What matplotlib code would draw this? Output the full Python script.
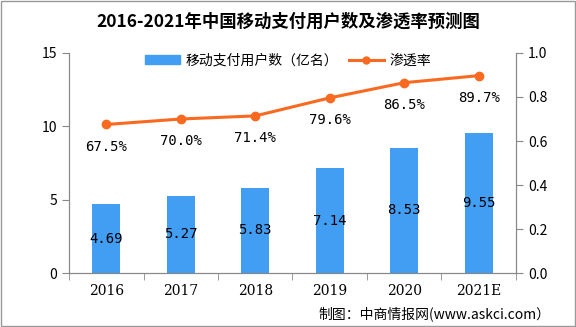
import matplotlib.pyplot as plt
from matplotlib.lines import Line2D
from matplotlib.patches import Patch, Rectangle

plt.rcParams['font.family'] = ['Noto Sans CJK SC', 'DejaVu Sans']

years = ['2016', '2017', '2018', '2019', '2020', '2021E']
users = [4.69, 5.27, 5.83, 7.14, 8.53, 9.55]
rate = [0.675, 0.700, 0.714, 0.796, 0.865, 0.897]
rate_labels = ['67.5%', '70.0%', '71.4%', '79.6%', '86.5%', '89.7%']

bar_color = '#419EF2'
line_color = '#F96A20'
spine_color = '#888888'

fig = plt.figure(figsize=(5.76, 3.27), dpi=100)
ax = fig.add_axes([0.1198, 0.165, 0.776, 0.673])
x = list(range(len(years)))

ax.bar(x, users, width=0.37, color=bar_color, zorder=2)
for xi, v in zip(x, users):
    ax.text(xi, v / 2, f'{v:.2f}', ha='center', va='center', fontsize=10, family='DejaVu Sans Mono')

ax.set_xlim(-0.5, len(years) - 0.5)
ax.set_ylim(0, 15)
ax.set_yticks([0, 5, 10, 15])
ax.set_xticks(x)
ax.set_xticklabels(years, fontsize=10, family='DejaVu Serif')
ax.set_xticks([i - 0.5 for i in range(len(years) + 1)], minor=True)
ax.tick_params(axis='x', which='major', length=0, pad=8)
ax.tick_params(axis='x', which='minor', length=5, color=spine_color)
ax.tick_params(axis='y', length=5, color=spine_color, labelsize=10)

ax2 = ax.twinx()
ax2.plot(x, rate, color=line_color, lw=2.2, marker='o', ms=6, zorder=3)
for xi, v, t in zip(x, rate, rate_labels):
    ax2.annotate(t, (xi, v), xytext=(0, -16), textcoords='offset points',
                 ha='center', va='center', fontsize=10, family='DejaVu Sans Mono')
ax2.set_ylim(0, 1.0)
ax2.set_yticks([0, 0.2, 0.4, 0.6, 0.8, 1.0])
ax2.set_yticklabels(['0.0', '0.2', '0.4', '0.6', '0.8', '1.0'])
ax2.tick_params(axis='y', length=5, color=spine_color, labelsize=10)

for a in (ax, ax2):
    a.spines['top'].set_visible(False)
    for s in ('left', 'right', 'bottom'):
        a.spines[s].set_color(spine_color)

handles = [Patch(color=bar_color), Line2D([0], [0], color=line_color, lw=2.2, marker='o', ms=5)]
fig.legend(handles, ['移动支付用户数（亿名）', '渗透率'], loc='center', bbox_to_anchor=(0.5, 0.815),
           ncol=2, frameon=False, fontsize=10, handlelength=2.5, columnspacing=0.8, handletextpad=0.4)

fig.text(0.5, 0.935, '2016-2021年中国移动支付用户数及渗透率预测图', ha='center', va='center',
         fontsize=12.5, fontweight='bold')
fig.text(0.955, 0.04, '制图：中商情报网(www.askci.com）', ha='right', va='center', fontsize=10)

fig.patches.append(Rectangle((0.001, 0.002), 0.997, 0.995, transform=fig.transFigure,
                             fill=False, edgecolor='#999999', lw=1))

fig.savefig('out.png', dpi=100)
